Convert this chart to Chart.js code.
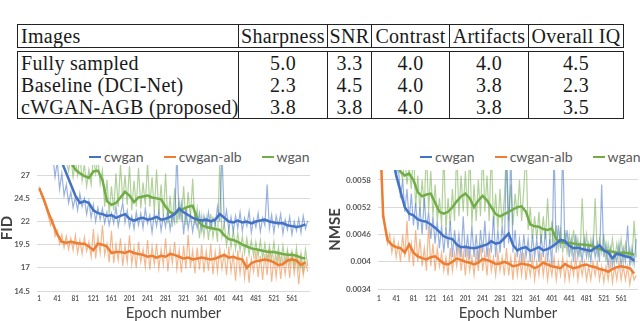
<!DOCTYPE html>
<html>
<head>
<meta charset="utf-8">
<script src="https://cdn.jsdelivr.net/npm/chart.js@4"></script>
<style>
  body { margin: 0; width: 640px; height: 321px; overflow: hidden; background: #fff; position: relative; }
  .tbl { position: absolute; left: 17px; width: 606px; border-collapse: collapse; table-layout: fixed;
         border: 1.3px solid #222; }
  .tbl td { padding: 0; height: 22px; line-height: 22px; text-align: center; white-space: nowrap;
            font-family: 'Liberation Serif', serif; font-size: 20px; color: #1a1a1a; letter-spacing: 0.3px;
            border-left: 1px solid #222; border-right: 1px solid #222; }
  .tbl td:first-child { text-align: left; padding-left: 3px; }
  #tblHead { top: 24px; }
  #tblBody { top: 51px; }
  .chartBox { position: absolute; top: 160px; }
  .legend { position: absolute; top: 148px; height: 18px; display: flex; align-items: center; white-space: nowrap;
            font-family: Lato, sans-serif; font-size: 14px; color: #595959; line-height: 18px; }
  .legend .sw { display: inline-block; width: 12px; height: 2px; margin-right: 3px; }
  .legend .lb { margin-right: 20px; }
  .legend .lb:last-child { margin-right: 0; }
</style>
</head>
<body>
<table class="tbl" id="tblHead"><colgroup id="cgHead"></colgroup><tbody></tbody></table>
<table class="tbl" id="tblBody"><colgroup id="cgBody"></colgroup><tbody></tbody></table>

<div class="legend" id="legendFid" style="left:89px"></div>
<div class="legend" id="legendNmse" style="left:420px"></div>

<canvas id="fidChart" class="chartBox" style="left:0px" width="316" height="161"></canvas>
<canvas id="nmseChart" class="chartBox" style="left:320px" width="320" height="161"></canvas>

<script>
// Table of reader scores
const tableHeader = ['Images', 'Sharpness', 'SNR', 'Contrast', 'Artifacts', 'Overall IQ'];
const tableRows = ['Fully sampled', 'Baseline (DCI-Net)', 'cWGAN-AGB (proposed)'];
const tableScores = [
    ['5.0', '3.3', '4.0', '4.0', '4.5'],
    ['2.3', '4.5', '4.0', '3.8', '2.3'],
    ['3.8', '3.8', '4.0', '3.8', '3.5']
];
const colWidths = [221, 89, 44, 78, 79, 95];

// Series shared by both plots
const seriesNames = ['cwgan', 'cwgan-alb', 'wgan'];
const lineColors = ['#4472C4', '#ED7D31', '#70AD47'];
const rawColors = ['rgba(68,114,196,0.55)', 'rgba(237,125,49,0.55)', 'rgba(112,173,71,0.55)'];

const xTicks = [1, 41, 81, 121, 161, 201, 241, 281, 321, 361, 401, 441, 481, 521, 561];
const fidTicks = [14.5, 17, 19.5, 22, 24.5, 27];
const nmseTicks = [0.0034, 0.004, 0.0046, 0.0052, 0.0058];

const rawEpochs = [
    1, 6, 11, 16, 21, 26, 31, 36, 41, 46, 51, 56, 61, 66, 71, 76, 81, 86, 91, 96,
    101, 106, 111, 116, 121, 126, 131, 136, 141, 146, 151, 156, 161, 166, 171, 176, 181, 186, 191, 196,
    201, 206, 211, 216, 221, 226, 231, 236, 241, 246, 251, 256, 261, 266, 271, 276, 281, 286, 291, 296,
    301, 306, 311, 316, 321, 326, 331, 336, 341, 346, 351, 356, 361, 366, 371, 376, 381, 386, 391, 396,
    401, 406, 411, 416, 421, 426, 431, 436, 441, 446, 451, 456, 461, 466, 471, 476, 481, 486, 491, 496,
    501, 506, 511, 516, 521, 526, 531, 536, 541, 546, 551, 556, 561, 566, 571, 576, 581, 586, 591, 596
];
const smoothEpochs = [
    1, 11, 21, 31, 41, 51, 61, 71, 81, 91, 101, 111, 121, 131, 141, 151, 161, 171, 181, 191,
    201, 211, 221, 231, 241, 251, 261, 271, 281, 291, 301, 311, 321, 331, 341, 351, 361, 371, 381, 391,
    401, 411, 421, 431, 441, 451, 461, 471, 481, 491, 501, 511, 521, 531, 541, 551, 561, 571, 581, 591
];

// FID
const fidCwganRaw = [
    40, 38, 36, 34, 32, 30, 29, 26.8, 28.5, 25.5, 27.2, 24.8, 26.0, 24.0, 25.2, 23.5, 24.6, 23.2, 25.0, 23.6,
    24.5, 22.8, 24.2, 22.4, 23.8, 22.0, 23.5, 22.2, 23.4, 21.8, 23.0, 21.6, 22.9, 21.8, 23.6, 21.5, 22.8, 24.0, 21.9, 23.2,
    21.4, 22.6, 21.2, 23.0, 21.6, 22.9, 21.3, 23.4, 21.8, 22.7, 20.8, 22.9, 21.5, 23.1, 21.0, 22.6, 21.4, 23.3, 21.1, 22.8,
    21.9, 29.5, 22.2, 24.0, 20.6, 23.5, 21.2, 22.7, 20.9, 22.5, 21.3, 22.9, 21.0, 22.6, 21.4, 23.0, 21.2, 22.4, 21.7, 23.6,
    22.0, 29.5, 21.8, 23.2, 21.1, 22.5, 20.9, 22.6, 21.3, 23.0, 21.0, 22.4, 21.5, 23.1, 20.8, 22.3, 21.4, 22.9, 20.9, 22.4,
    21.6, 26.0, 21.2, 22.7, 20.8, 22.6, 21.5, 22.8, 20.7, 22.2, 21.1, 22.5, 20.6, 22.0, 21.0, 22.3, 20.8, 22.6, 21.2, 22.1
];
const fidCwganSmooth = [
    40, 37, 34, 31, 29.5, 28.4, 27.2, 26.0, 24.8, 24.0, 24.2, 24.0, 23.2, 22.9, 22.8, 22.6, 22.7, 22.4, 22.6, 22.8,
    22.3, 22.1, 22.3, 22.4, 22.2, 22.3, 22.5, 22.2, 22.3, 22.5, 22.8, 23.4, 23.0, 22.7, 22.4, 22.2, 22.1, 22.2, 22.0, 22.2,
    22.8, 22.4, 22.0, 21.9, 22.1, 21.9, 22.0, 21.8, 22.0, 22.1, 22.2, 22.0, 21.9, 21.8, 21.8, 21.6, 21.5, 21.4, 21.5, 21.7
];
const fidAlbRaw = [
    25.8, 24.8, 24.2, 23.5, 22.6, 21.6, 22.2, 20.4, 21.0, 19.6, 20.6, 19.2, 20.4, 19.0, 20.2, 18.9, 20.5, 18.6, 20.0, 18.5,
    20.3, 18.8, 19.8, 18.2, 21.2, 18.0, 20.4, 18.6, 21.6, 18.4, 19.6, 17.6, 21.0, 17.5, 19.5, 17.8, 20.2, 17.2, 19.4, 17.6,
    20.5, 17.4, 19.2, 17.0, 19.8, 17.6, 19.0, 17.1, 20.0, 16.8, 19.3, 17.4, 19.6, 16.9, 19.0, 17.3, 20.2, 16.6, 19.1, 17.5,
    19.8, 16.9, 18.9, 16.5, 19.4, 16.9, 20.6, 17.0, 18.9, 16.4, 19.2, 16.8, 19.5, 16.5, 18.8, 16.7, 19.6, 16.3, 18.7, 16.6,
    19.1, 16.9, 18.6, 16.2, 19.3, 16.6, 18.5, 15.6, 18.9, 16.4, 18.4, 15.9, 18.2, 15.4, 18.0, 16.6, 18.8, 16.0, 18.3, 15.7,
    18.5, 16.2, 19.0, 15.5, 18.1, 16.0, 18.6, 15.8, 18.0, 16.3, 18.4, 15.9, 18.7, 16.4, 18.2, 15.2, 18.0, 16.2, 17.6, 16.6
];
const fidAlbSmooth = [
    25.6, 24.4, 23.0, 21.8, 20.6, 19.8, 19.7, 19.8, 19.7, 19.6, 19.6, 19.3, 18.9, 19.6, 19.5, 19.3, 18.6, 18.7, 18.7, 18.6,
    18.8, 18.6, 18.5, 18.4, 18.2, 18.3, 18.1, 18.3, 18.2, 18.5, 18.4, 18.2, 18.0, 18.1, 17.9, 18.0, 18.1, 18.0, 17.9, 18.0,
    18.2, 18.4, 18.1, 18.2, 18.0, 17.9, 17.0, 17.5, 17.7, 17.8, 17.9, 17.8, 17.6, 17.3, 17.4, 17.8, 17.9, 17.8, 17.3, 17.6
];
const fidWganRaw = [
    40, 38, 36, 35, 34, 33, 32, 31, 30.5, 30, 29.5, 29, 28.5, 27.4, 29.0, 26.8, 28.6, 27.0, 29.2, 26.4,
    28.2, 25.8, 27.6, 26.0, 29.0, 27.2, 28.8, 26.0, 27.5, 23.6, 26.5, 22.8, 25.8, 23.2, 27.2, 23.6, 28.2, 24.2, 27.0, 23.8,
    28.0, 23.2, 26.4, 23.6, 27.8, 23.4, 26.2, 23.8, 28.4, 23.6, 26.8, 23.0, 27.6, 22.8, 26.0, 22.6, 27.2, 21.8, 24.8, 21.4,
    25.6, 21.8, 24.2, 22.0, 25.8, 21.6, 25.2, 22.4, 26.6, 21.6, 23.4, 20.2, 22.6, 20.4, 22.4, 20.0, 22.8, 20.3, 21.9, 19.8,
    28.5, 20.4, 21.8, 19.4, 21.2, 19.2, 21.0, 19.0, 20.8, 18.8, 20.4, 18.6, 20.2, 18.4, 20.0, 18.3, 19.8, 18.2, 20.0, 18.0,
    19.6, 17.8, 19.4, 17.9, 19.8, 17.6, 19.2, 17.5, 19.4, 17.6, 19.0, 17.4, 18.8, 17.2, 19.2, 17.0, 18.6, 16.8, 19.0, 17.2
];
const fidWganSmooth = [
    40, 38, 36, 34, 32, 30.5, 29.2, 28.4, 27.6, 27.2, 26.9, 26.7, 27.4, 27.5, 26.5, 24.2, 23.8, 24.0, 24.6, 25.2,
    24.8, 24.1, 24.6, 24.7, 24.8, 24.6, 24.5, 24.4, 23.6, 23.0, 22.8, 23.2, 23.4, 23.6, 23.7, 22.3, 21.6, 21.4, 21.3, 21.2,
    21.1, 20.5, 20.1, 20.0, 19.8, 19.5, 19.3, 19.1, 19.0, 18.9, 18.8, 18.7, 18.7, 18.6, 18.5, 18.4, 18.4, 18.3, 18.1, 18.0
];

// NMSE
const nmseCwganRaw = [
    0.0080, 0.0075, 0.0072, 0.0070, 0.0068, 0.0066, 0.0064, 0.0062, 0.0059, 0.0061, 0.0054, 0.0058, 0.0051, 0.0056, 0.0049, 0.0055, 0.0048, 0.0053, 0.0047, 0.0052,
    0.0046, 0.0054, 0.0047, 0.0051, 0.0045, 0.0050, 0.0044, 0.0049, 0.0043, 0.0048, 0.0042, 0.00475, 0.0043, 0.0049, 0.0041, 0.0047, 0.0042, 0.0046, 0.0041, 0.0050,
    0.0041, 0.0046, 0.00405, 0.0048, 0.0041, 0.0046, 0.0040, 0.0047, 0.0042, 0.0049, 0.0041, 0.0046, 0.0042, 0.0050, 0.0041, 0.0047, 0.0042, 0.0048, 0.0043, 0.0064,
    0.0044, 0.0065, 0.0042, 0.0047, 0.0041, 0.0045, 0.0040, 0.0046, 0.0041, 0.0045, 0.0040, 0.0046, 0.0041, 0.0045, 0.0040, 0.0046, 0.0041, 0.0047, 0.0040, 0.0045,
    0.0039, 0.0065, 0.0042, 0.0048, 0.0043, 0.0066, 0.0043, 0.0047, 0.0041, 0.0045, 0.0040, 0.0046, 0.0041, 0.0044, 0.0040, 0.0045, 0.0041, 0.0044, 0.0040, 0.0045,
    0.0041, 0.0044, 0.0040, 0.0057, 0.0041, 0.0044, 0.0039, 0.0043, 0.0039, 0.0042, 0.0040, 0.0044, 0.0039, 0.0043, 0.0040, 0.0048, 0.0039, 0.0043, 0.00395, 0.0045
];
const nmseCwganSmooth = [
    0.0080, 0.0074, 0.0069, 0.0064, 0.0059, 0.00555, 0.0052, 0.00506, 0.00502, 0.00493, 0.0049, 0.00488, 0.00482, 0.00475, 0.00466, 0.00456, 0.00452, 0.0045, 0.00438, 0.00432,
    0.00433, 0.00431, 0.0043, 0.00432, 0.00435, 0.00438, 0.00445, 0.0044, 0.00442, 0.00452, 0.00462, 0.00437, 0.00425, 0.0043, 0.00432, 0.00424, 0.00428, 0.00432, 0.00425, 0.00428,
    0.00433, 0.0044, 0.00448, 0.00446, 0.00435, 0.0043, 0.00431, 0.00428, 0.00426, 0.00424, 0.0043, 0.00436, 0.00425, 0.0042, 0.00408, 0.00418, 0.00415, 0.00412, 0.0041, 0.00402
];
const nmseAlbRaw = [
    0.0075, 0.0062, 0.0051, 0.0047, 0.0044, 0.0046, 0.0042, 0.0045, 0.0041, 0.0044, 0.0040, 0.0046, 0.0041, 0.0049, 0.0040, 0.0044, 0.0039, 0.0047, 0.0040, 0.0045,
    0.0039, 0.0043, 0.0038, 0.0048, 0.0039, 0.0044, 0.0038, 0.0043, 0.0039, 0.0042, 0.0038, 0.0041, 0.0037, 0.0043, 0.0038, 0.0042, 0.0039, 0.0044, 0.0038, 0.0042,
    0.0037, 0.0043, 0.0038, 0.0041, 0.0037, 0.0042, 0.0038, 0.0044, 0.0038, 0.0042, 0.0037, 0.0043, 0.0038, 0.0041, 0.0037, 0.0042, 0.0038, 0.0041, 0.0037, 0.0043,
    0.0037, 0.0041, 0.0036, 0.0042, 0.0037, 0.0041, 0.0037, 0.0042, 0.0036, 0.0040, 0.0037, 0.0041, 0.0036, 0.0040, 0.0037, 0.0042, 0.0037, 0.0041, 0.0036, 0.0040,
    0.0037, 0.0041, 0.0036, 0.0040, 0.0037, 0.0041, 0.0036, 0.0040, 0.0036, 0.0040, 0.0037, 0.0041, 0.0036, 0.0040, 0.0037, 0.0040, 0.0036, 0.0039, 0.0036, 0.0040,
    0.0037, 0.0040, 0.0036, 0.0039, 0.00355, 0.0039, 0.0036, 0.0040, 0.00355, 0.0039, 0.0036, 0.0040, 0.0036, 0.0039, 0.0036, 0.0039, 0.0035, 0.0038, 0.0036, 0.0037
];
const nmseAlbSmooth = [
    0.0075, 0.0050, 0.00448, 0.00437, 0.00432, 0.0043, 0.0042, 0.00438, 0.0042, 0.00412, 0.00408, 0.00405, 0.0041, 0.00412, 0.00404, 0.00396, 0.00394, 0.004, 0.00407, 0.00404,
    0.004, 0.00398, 0.00394, 0.00398, 0.00406, 0.00404, 0.004, 0.00395, 0.00396, 0.004, 0.00396, 0.0039, 0.00392, 0.00396, 0.00394, 0.00392, 0.00386, 0.0039, 0.00398, 0.00394,
    0.0039, 0.00388, 0.00386, 0.00395, 0.0039, 0.00386, 0.00388, 0.00392, 0.00394, 0.0039, 0.00388, 0.00384, 0.00382, 0.00378, 0.00384, 0.00388, 0.0039, 0.00388, 0.00386, 0.00374
];
const nmseWganRaw = [
    0.0080, 0.0078, 0.0076, 0.0074, 0.0072, 0.0070, 0.0068, 0.0066, 0.0064, 0.0062, 0.0060, 0.0058, 0.0063, 0.0057, 0.0061, 0.0056, 0.0065, 0.0052, 0.0059, 0.0051,
    0.0058, 0.0052, 0.0065, 0.0051, 0.0060, 0.0050, 0.0057, 0.0049, 0.0054, 0.0048, 0.0065, 0.0047, 0.0054, 0.0048, 0.0056, 0.0049, 0.0065, 0.0050, 0.0059, 0.0051,
    0.0060, 0.0050, 0.0065, 0.0048, 0.0057, 0.0049, 0.0058, 0.0050, 0.0065, 0.0051, 0.0059, 0.0049, 0.0065, 0.0048, 0.0055, 0.0047, 0.0056, 0.0048, 0.0054, 0.0065,
    0.0049, 0.0057, 0.0048, 0.0055, 0.0050, 0.0058, 0.0049, 0.0056, 0.0065, 0.0047, 0.0052, 0.0045, 0.0050, 0.0045, 0.0051, 0.0044, 0.0050, 0.0045, 0.0054, 0.0044,
    0.0049, 0.0043, 0.0048, 0.0043, 0.0047, 0.0042, 0.0047, 0.0042, 0.0046, 0.0042, 0.0047, 0.0042, 0.0045, 0.0041, 0.0054, 0.0042, 0.0046, 0.0041, 0.0045, 0.0042,
    0.0054, 0.0041, 0.0045, 0.0042, 0.0046, 0.0040, 0.0044, 0.0041, 0.0045, 0.0040, 0.0044, 0.0041, 0.0045, 0.0040, 0.0044, 0.0041, 0.0043, 0.0040, 0.0049, 0.0041
];
const nmseWganSmooth = [
    0.0080, 0.0076, 0.0072, 0.0068, 0.0063, 0.00598, 0.0059, 0.00594, 0.0058, 0.00553, 0.00544, 0.00548, 0.0055, 0.0053, 0.0051, 0.00506, 0.0051, 0.0052, 0.00533, 0.00544,
    0.0055, 0.0054, 0.0052, 0.00535, 0.00545, 0.00535, 0.0052, 0.00505, 0.005, 0.00505, 0.0051, 0.00515, 0.0052, 0.00522, 0.0051, 0.00482, 0.00478, 0.00477, 0.00472, 0.0047,
    0.00473, 0.0045, 0.00443, 0.00442, 0.00442, 0.0044, 0.00438, 0.00438, 0.00437, 0.00436, 0.00432, 0.00428, 0.00425, 0.00424, 0.00422, 0.0042, 0.0042, 0.0042, 0.00418, 0.00416
];

// Fill the two tables
function fillTable() {
    ['cgHead', 'cgBody'].forEach(id => {
        const cg = document.getElementById(id);
        colWidths.forEach(w => {
            const col = document.createElement('col');
            col.style.width = w + 'px';
            cg.appendChild(col);
        });
    });
    const head = document.querySelector('#tblHead tbody').insertRow();
    tableHeader.forEach(t => head.insertCell().textContent = t);

    const body = document.querySelector('#tblBody tbody');
    tableRows.forEach((name, r) => {
        const row = body.insertRow();
        row.insertCell().textContent = name;
        tableScores[r].forEach(v => row.insertCell().textContent = v);
    });
}

function fillLegend(id) {
    const box = document.getElementById(id);
    seriesNames.forEach((name, k) => {
        const sw = document.createElement('span');
        sw.className = 'sw';
        sw.style.background = lineColors[k];
        const lb = document.createElement('span');
        lb.className = 'lb';
        lb.textContent = name;
        box.appendChild(sw);
        box.appendChild(lb);
    });
}

const toPoints = (xs, ys) => xs.map((x, i) => ({ x: x, y: ys[i] }));

function lineChart(canvasId, p) {
    const datasets = [];
    p.raw.forEach((vals, k) => datasets.push({
        label: seriesNames[k] + ' (raw)',
        data: toPoints(rawEpochs, vals),
        borderColor: rawColors[k],
        borderWidth: 1.2,
        order: 2
    }));
    p.smooth.forEach((vals, k) => datasets.push({
        label: seriesNames[k],
        data: toPoints(smoothEpochs, vals),
        borderColor: lineColors[k],
        borderWidth: 2.5,
        order: 1
    }));

    const tickFont = size => ({ family: 'Lato', size: size, weight: 'bold' });

    return new Chart(document.getElementById(canvasId), {
        type: 'line',
        data: { datasets: datasets },
        options: {
            responsive: false,
            animation: false,
            layout: { padding: p.padding },
            elements: { point: { radius: 0 }, line: { tension: 0 } },
            plugins: { legend: { display: false }, tooltip: { enabled: false } },
            scales: {
                x: {
                    type: 'linear',
                    min: p.xMin,
                    max: p.xMax,
                    grid: { display: false, drawTicks: false },
                    border: { display: false },
                    afterBuildTicks: ax => { ax.ticks = xTicks.map(v => ({ value: v })); },
                    afterFit: ax => { ax.height = p.xHeight; ax.paddingLeft = 0; ax.paddingRight = 0; },
                    ticks: {
                        autoSkip: false, maxRotation: 0, padding: p.xTickPad,
                        color: '#595959', font: tickFont(6.5),
                        callback: v => String(v)
                    },
                    title: {
                        display: true, text: p.xTitle, color: '#404040', padding: 0,
                        font: { family: 'Lato', size: 15, lineHeight: 1 }
                    }
                },
                y: {
                    min: p.yMin,
                    max: p.yMax,
                    grid: { color: '#d9d9d9', drawTicks: false },
                    border: { display: false },
                    afterBuildTicks: ax => { ax.ticks = p.yTicks.map(v => ({ value: v })); },
                    afterFit: ax => { ax.width = p.yWidth; ax.paddingTop = 0; ax.paddingBottom = 0; },
                    ticks: { padding: 7, color: '#595959', font: tickFont(8), callback: v => String(v) },
                    title: {
                        display: true, text: p.yTitle, color: '#404040', padding: 0,
                        font: { family: 'Lato', size: 15, weight: 'bold', lineHeight: 1 }
                    }
                }
            }
        }
    });
}

fillTable();
fillLegend('legendFid');
fillLegend('legendNmse');

lineChart('fidChart', {
    raw: [fidCwganRaw, fidAlbRaw, fidWganRaw],
    smooth: [fidCwganSmooth, fidAlbSmooth, fidWganSmooth],
    yTicks: fidTicks, yMin: 14.5, yMax: 28.1,
    xMin: -4, xMax: 601,
    xTitle: 'Epoch number', yTitle: 'FID',
    padding: { top: 5, right: 6, left: 0, bottom: 0 },
    yWidth: 37, xHeight: 30, xTickPad: 4
});

lineChart('nmseChart', {
    raw: [nmseCwganRaw, nmseAlbRaw, nmseWganRaw],
    smooth: [nmseCwganSmooth, nmseAlbSmooth, nmseWganSmooth],
    yTicks: nmseTicks, yMin: 0.0034, yMax: 0.00602,
    xMin: -1, xMax: 600,
    xTitle: 'Epoch Number', yTitle: 'NMSE',
    padding: { top: 10, right: 2, left: 8, bottom: 0 },
    yWidth: 50, xHeight: 32, xTickPad: 6
});
</script>
</body>
</html>
